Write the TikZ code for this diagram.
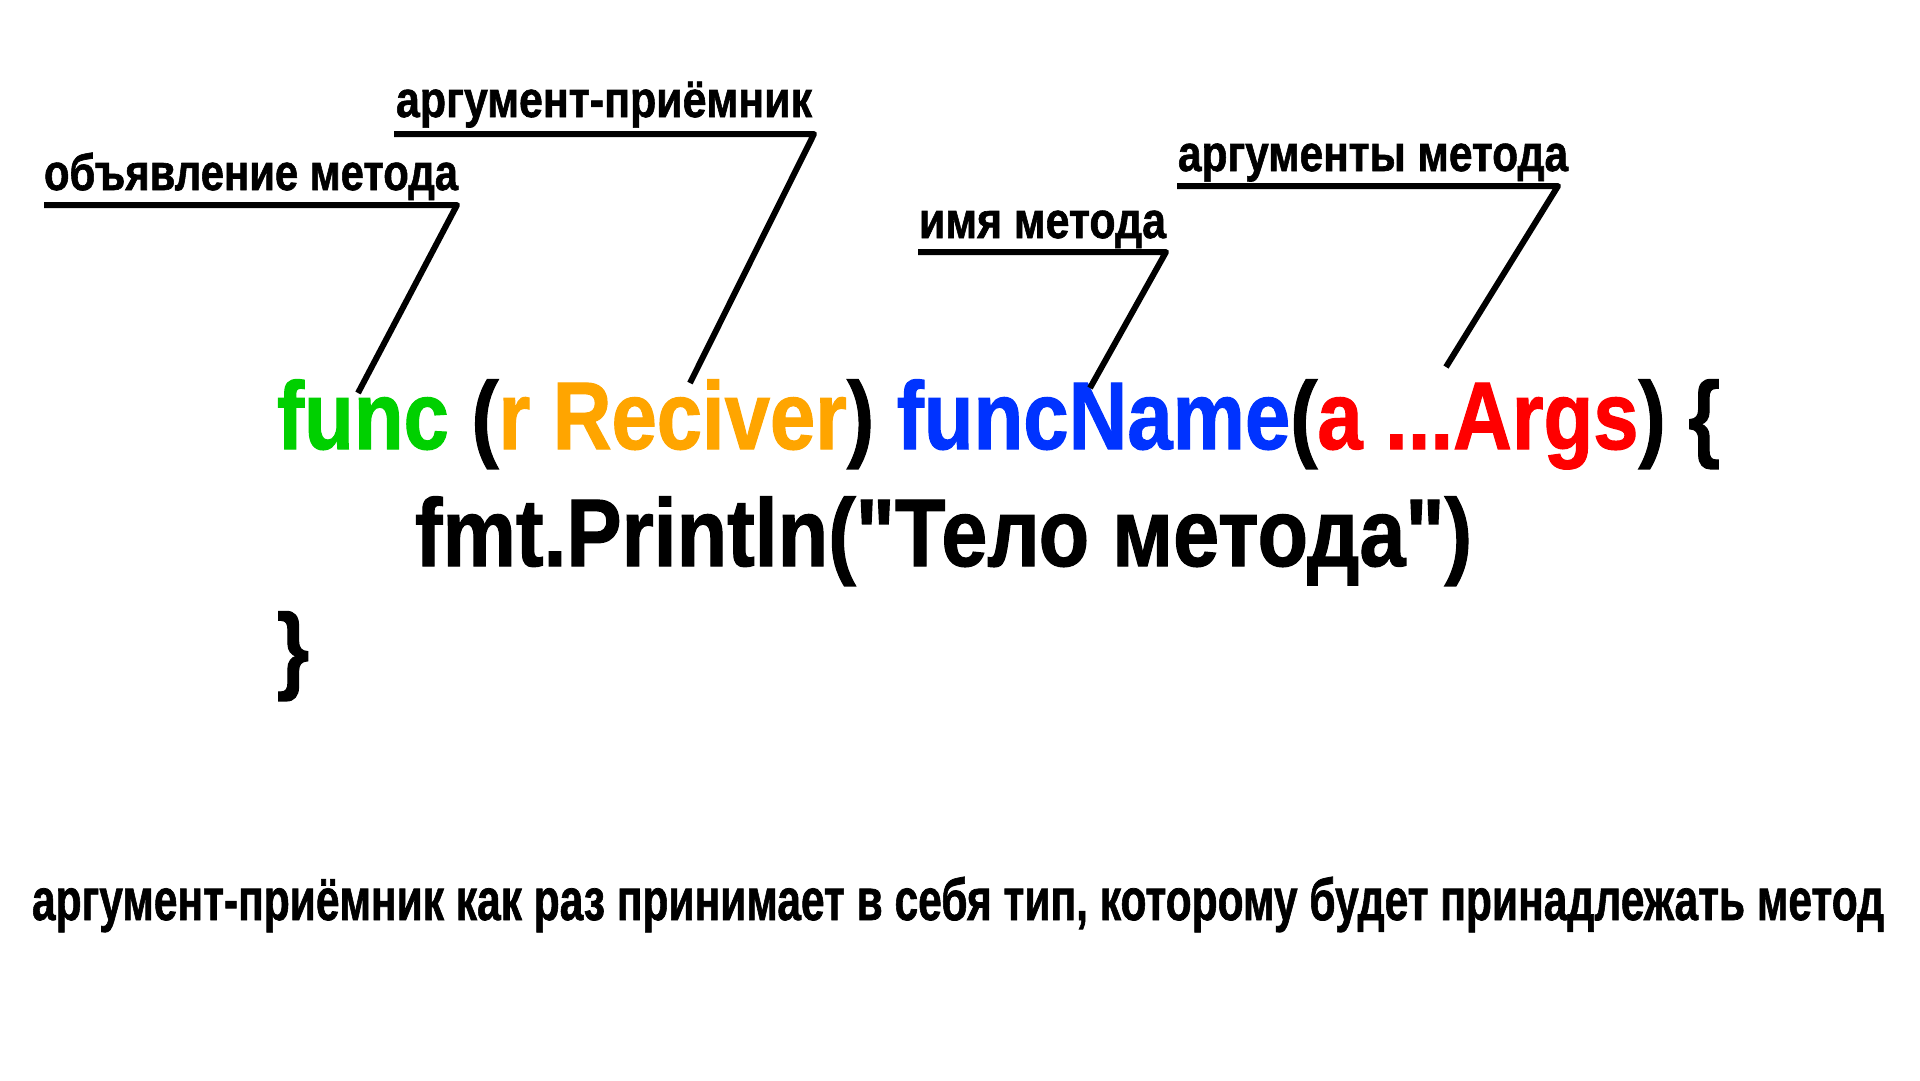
\documentclass[tikz,border=0pt]{standalone}
\usepackage{fontspec}
\usepackage{graphicx}
\setmainfont{Liberation Sans}[Ligatures=TeXOff, BoldFeatures={FakeBold=1.3}]
\definecolor{cgreen}{RGB}{0,208,0}
\definecolor{corange}{RGB}{255,165,0}
\definecolor{cblue}{RGB}{0,51,255}
\definecolor{cred}{RGB}{255,0,0}
\newlength\fitlen
\newcommand\fitw[2]{\settowidth\fitlen{#2}\pgfmathsetmacro\fitsx{#1/\fitlen}\scalebox{\fitsx}[1]{#2}}
\newcommand\codesize{\fontsize{96}{100}\selectfont\bfseries}
\newcommand\labsize{\fontsize{51}{55}\selectfont\bfseries}
\newcommand\notesize{\fontsize{59}{62}\selectfont\bfseries}
\begin{document}
\begin{tikzpicture}[x=1pt,y=-1pt,
  txt/.style={anchor=base west, inner sep=0pt, outer sep=0pt},
  leader/.style={line width=6pt, black, line join=round}]
\path[use as bounding box, fill=white] (0,0) rectangle (1920,1080);
% code
\node[txt] (code1) at (277,449) {\fitw{1443}{\codesize\textcolor{cgreen}{func} (\textcolor{corange}{r Reciver}) \textcolor{cblue}{funcName}(\textcolor{cred}{a ...Args}) \{}};
\node[txt] (code2) at (415,566) {\fitw{1057}{\codesize fmt.Println("Тело метода")}};
\node[txt] (code3) at (277,681) {\scalebox{0.86}[1]{\codesize\}}};
% labels
\node[txt] (lab1) at (44,190) {\fitw{414}{\labsize объявление метода}};
\node[txt] (lab2) at (396,117) {\fitw{416}{\labsize аргумент-приёмник}};
\node[txt] (lab3) at (919,238) {\fitw{247}{\labsize имя метода}};
\node[txt] (lab4) at (1178,171) {\fitw{390}{\labsize аргументы метода}};
\node[txt] (note) at (32,920) {\fitw{1852}{\notesize аргумент-приёмник как раз принимает в себя тип, которому будет принадлежать метод}};
% leader coordinates
\coordinate (u1a) at (44,205);  \coordinate (u1b) at (457,205);  \coordinate (t1) at (358,393);
\coordinate (u2a) at (394,134); \coordinate (u2b) at (814,134);  \coordinate (t2) at (690,383);
\coordinate (u3a) at (918,252); \coordinate (u3b) at (1166,252); \coordinate (t3) at (1090,388);
\coordinate (u4a) at (1177,186);\coordinate (u4b) at (1558,186); \coordinate (t4) at (1446,367);
\draw[leader] (u1a) -- (u1b) -- (t1);
\draw[leader] (u2a) -- (u2b) -- (t2);
\draw[leader] (u3a) -- (u3b) -- (t3);
\draw[leader] (u4a) -- (u4b) -- (t4);
\end{tikzpicture}
\end{document}
